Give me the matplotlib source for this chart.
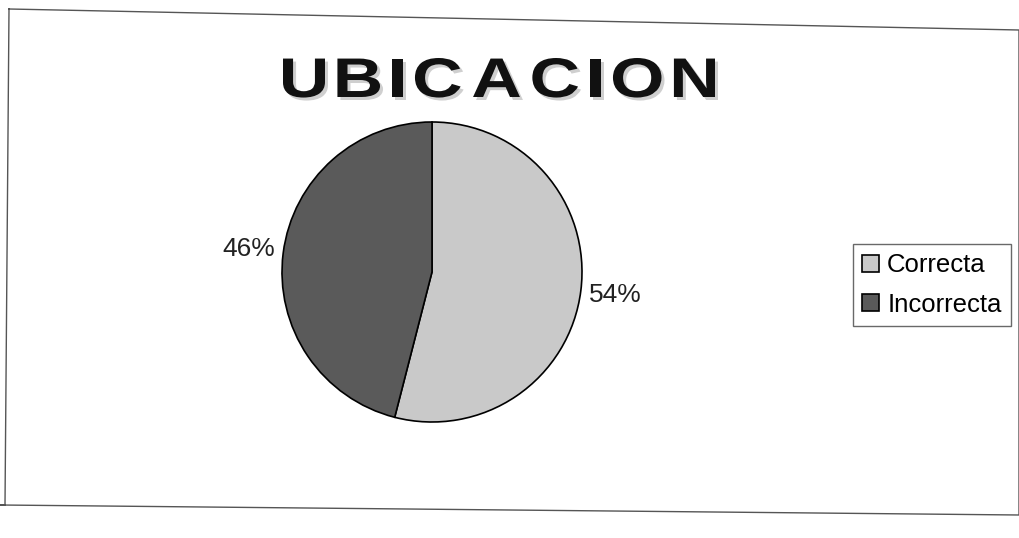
import matplotlib.pyplot as plt
from matplotlib.lines import Line2D
from matplotlib.patches import PathPatch
from matplotlib.textpath import TextPath
from matplotlib.font_manager import FontProperties
from matplotlib.transforms import Affine2D

# data
categories = ['Correcta', 'Incorrecta']
shares = [54, 46]
colors = ['#c9c9c9', '#5a5a5a']
title = 'UBICACION'

W, H = 1019, 538
fig = plt.figure(figsize=(W / 100, H / 100), dpi=100)
fig.patch.set_facecolor('white')


def px(x, y):
    return x / W, 1 - y / H


# chart border (the scan is slightly skewed)
bx = [9, 1019, 1019, 0, 5, 9]
by = [9, 30, 515, 505, 505, 9]
corners = [px(x, y) for x, y in zip(bx, by)]
fig.add_artist(Line2D([c[0] for c in corners], [c[1] for c in corners],
                      color='#555555', lw=1.0, transform=fig.transFigure))

# pie axes: centre ~ (432, 272) px, radius ~ 150 px
cx, cy, r = 432, 272, 150
ax = fig.add_axes([(cx - r) / W, (H - cy - r) / H, 2 * r / W, 2 * r / H])
wedges, texts, autotexts = ax.pie(
    shares, colors=colors, startangle=90, counterclock=False,
    autopct='%d%%', pctdistance=1.23,
    wedgeprops=dict(edgecolor='black', linewidth=1.2),
    textprops=dict(fontsize=19, color='#222222', family='Liberation Sans'))
ax.set_xlim(-1, 1)
ax.set_ylim(-1, 1)
ax.set_aspect('equal')
ax.axis('off')

# title: wide, bold letters with a soft shadow, built from text paths
fp = FontProperties(family='Liberation Sans', weight='bold')
size = 40 / 0.716           # cap height ~40 px
paths = [TextPath((0, 0), ch, size=size, prop=fp) for ch in title]
inks = [p.get_extents() for p in paths]
sx = 42 / inks[0].width     # 'U' is ~42 px wide in the original
left, right, base = 283, 715, 97
gap = (right - left - sx * sum(b.width for b in inks)) / (len(title) - 1)
x = left
for p, b in zip(paths, inks):
    for dx, dy, col, z in [(3, 3, '#cfcfcf', 2), (0, 0, '#111111', 3)]:
        tr = (Affine2D().translate(-b.x0, 0).scale(sx / W, 1 / H)
              .translate((x + dx) / W, 1 - (base + dy) / H) + fig.transFigure)
        fig.add_artist(PathPatch(p, transform=tr, facecolor=col, edgecolor='none', zorder=z))
    x += sx * b.width + gap

# legend
leg = fig.legend(wedges, categories, loc='center', bbox_to_anchor=px(932, 285),
                 frameon=True, fancybox=False, edgecolor='#444444',
                 prop=dict(family='Liberation Sans', size=18.5),
                 handlelength=0.66, handleheight=0.66, handletextpad=0.3,
                 borderpad=0.35, labelspacing=0.6, borderaxespad=0)
leg.get_frame().set_linewidth(1.0)

fig.savefig('out.png', dpi=100)
